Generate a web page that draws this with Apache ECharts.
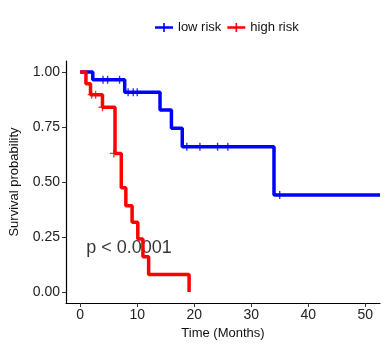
<!DOCTYPE html>
<html>
<head>
<meta charset="utf-8">
<script src="https://cdn.jsdelivr.net/npm/echarts@6/dist/echarts.min.js"></script>
<style>
html,body{margin:0;padding:0;background:#fff;}
#chart{width:388px;height:349px;}
</style>
</head>
<body>
<div id="chart"></div>
<script>
// Kaplan-Meier step curves (time in months, survival probability)
var lowTimes = [0, 2.2, 7.8, 14.0, 16.0, 17.9, 34.0, 52.6];
var lowSurv  = [1, 0.965, 0.908, 0.827, 0.744, 0.66, 0.441, 0.441];
var lowCensorTimes = [4.0, 4.8, 6.9, 8.4, 9.3, 10.0, 18.7, 21.0, 24.1, 25.9, 35.0];
var lowCensorSurv  = [0.965, 0.965, 0.965, 0.908, 0.908, 0.908, 0.66, 0.66, 0.66, 0.66, 0.441];

var highTimes = [0, 1.0, 1.8, 3.9, 6.1, 7.2, 8.0, 9.1, 10.1, 11.0, 12.0, 19.1];
var highSurv  = [1, 0.947, 0.897, 0.84, 0.63, 0.474, 0.392, 0.317, 0.241, 0.16, 0.08, 0];
var highCensorTimes = [2.0, 2.7, 3.9, 5.9];
var highCensorSurv  = [0.897, 0.897, 0.84, 0.63];

var groupNames = ['low risk', 'high risk'];
var xTicks = [0, 10, 20, 30, 40, 50];
var yTicks = [0, 0.25, 0.5, 0.75, 1];
var pText = 'p < 0.0001';
var pCoord = [1.05, 0.2];

function zip(a, b) { return a.map(function (v, i) { return [v, b[i]]; }); }

var FONT = 'Liberation Sans, Arial, sans-serif';
var plusSym = 'path://M3.3,0h1.4v8h-1.4z M0,3.3h8v1.4h-8z';
var legendIcon = 'path://M0,3.2h18v2.6h-18z M8.2,0h1.6v9h-1.6z';

var chart = echarts.init(document.getElementById('chart'), null, {renderer: 'canvas'});
chart.setOption({
  animation: false,
  backgroundColor: '#ffffff',
  textStyle: {fontFamily: FONT},
  legend: {
    data: [
      {name: groupNames[0], icon: legendIcon},
      {name: groupNames[1], icon: legendIcon}
    ],
    left: 150, top: 16,
    itemWidth: 18, itemHeight: 9, itemGap: 6,
    textStyle: {fontSize: 13, color: '#111', fontFamily: FONT},
    selectedMode: false
  },
  grid: {left: 62, right: 8, top: 61, bottom: 46, containLabel: false},
  xAxis: {
    type: 'value', min: -2.5, max: 52.6,
    name: 'Time (Months)', nameLocation: 'middle', nameGap: 23,
    nameTextStyle: {fontSize: 13, color: '#111', fontFamily: FONT},
    axisLine: {show: true, onZero: false, lineStyle: {color: '#000', width: 1.2}},
    axisTick: {show: true, length: 4, customValues: xTicks, lineStyle: {color: '#333'}},
    axisLabel: {customValues: xTicks, fontSize: 14, color: '#222', margin: 5, fontFamily: FONT},
    splitLine: {show: false}
  },
  yAxis: {
    type: 'value', min: -0.05, max: 1.05,
    name: 'Survival probability', nameLocation: 'middle', nameGap: 45, nameRotate: 90,
    nameTextStyle: {fontSize: 13, color: '#111', fontFamily: FONT},
    axisLine: {show: true, onZero: false, lineStyle: {color: '#000', width: 1.2}},
    axisTick: {show: true, length: 4, customValues: yTicks, lineStyle: {color: '#333'}},
    axisLabel: {customValues: yTicks, fontSize: 14, color: '#222', margin: 6, fontFamily: FONT,
      formatter: function (v) { return v.toFixed(2); }},
    splitLine: {show: false}
  },
  series: [
    {
      name: groupNames[0], type: 'line', step: 'end', symbol: 'none',
      data: zip(lowTimes, lowSurv),
      lineStyle: {color: '#0000ff', width: 3.5}, itemStyle: {color: '#0000ff'}
    },
    {
      name: groupNames[0], type: 'scatter', symbol: plusSym, symbolSize: [8, 8],
      data: zip(lowCensorTimes, lowCensorSurv),
      itemStyle: {color: '#0000ff'}
    },
    {
      name: groupNames[1], type: 'line', step: 'end', symbol: 'none',
      data: zip(highTimes, highSurv),
      lineStyle: {color: '#ff0000', width: 3.5}, itemStyle: {color: '#ff0000'}
    },
    {
      name: groupNames[1], type: 'scatter', symbol: plusSym, symbolSize: [8, 8],
      data: zip(highCensorTimes, highCensorSurv),
      itemStyle: {color: '#ff0000'}
    },
    {
      name: 'pval', type: 'scatter', symbolSize: 0, silent: true,
      data: [pCoord],
      label: {show: true, position: 'right', distance: 0, formatter: pText,
        fontSize: 18, color: '#000', fontFamily: FONT}
    }
  ]
});
</script>
</body>
</html>
